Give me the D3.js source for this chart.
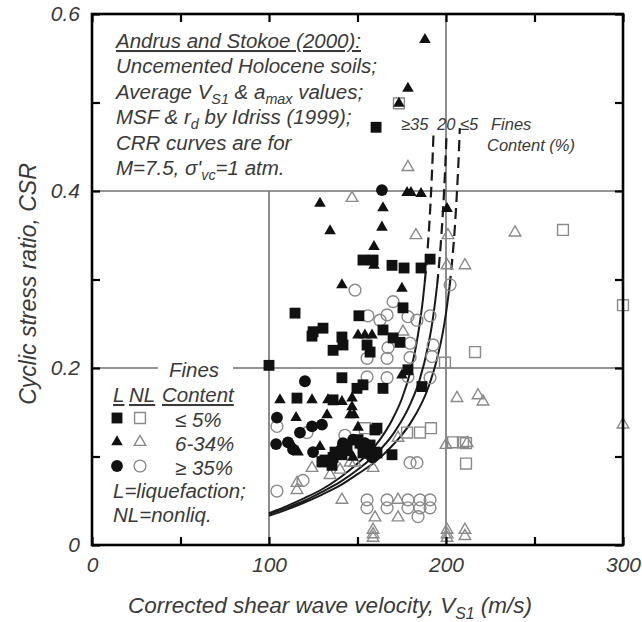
<!DOCTYPE html>
<html>
<head>
<meta charset="utf-8">
<script src="https://cdn.jsdelivr.net/npm/d3@7"></script>
<style>
  body { margin: 0; background: #fff; }
  svg text { font-family: "Liberation Sans", Arial, Helvetica, sans-serif; font-style: italic; fill: #3a3a3a; }
</style>
</head>
<body>
<svg id="chart" width="642" height="622"></svg>
<script>
// ---- data: [Vs1 (m/s), CSR] ----
const liqSquares = [
  [160.5, 0.472], [153.1, 0.322], [158.8, 0.322], [169.5, 0.316], [176.3, 0.313], [185.9, 0.313],
  [191.0, 0.323], [175.7, 0.268], [114.7, 0.262], [150.8, 0.259], [164.4, 0.243], [124.9, 0.241],
  [130.5, 0.245], [124.3, 0.236], [141.2, 0.235], [141.8, 0.226], [136.2, 0.220], [155.4, 0.226],
  [157.1, 0.218], [170.1, 0.234], [174.0, 0.229], [178.5, 0.198], [141.2, 0.189], [153.1, 0.181],
  [149.7, 0.177], [164.4, 0.177], [186.4, 0.179], [100.0, 0.203], [115.8, 0.166], [136.2, 0.164],
  [159.9, 0.130], [161.0, 0.132], [169.5, 0.102], [130.5, 0.094], [131.6, 0.096], [136.2, 0.099],
  [137.3, 0.105], [141.2, 0.102], [144.1, 0.111], [151.4, 0.115], [150.3, 0.119], [157.1, 0.113],
  [155.9, 0.107], [159.9, 0.105], [161.0, 0.104], [153.1, 0.104], [135.6, 0.090], [129.9, 0.094]
];
const nonliqSquares = [
  [173.4, 0.499], [266.1, 0.356], [300.0, 0.271], [216.4, 0.218], [199.4, 0.206], [154.2, 0.132],
  [178.0, 0.127], [185.3, 0.127], [191.5, 0.132], [204.0, 0.116], [209.6, 0.116], [211.3, 0.115],
  [211.3, 0.092]
];
const liqTriangles = [
  [188.1, 0.571], [178.5, 0.516], [173.4, 0.499], [178.0, 0.398], [180.2, 0.398], [185.9, 0.397],
  [128.8, 0.386], [164.4, 0.381], [163.8, 0.359], [134.5, 0.355], [159.3, 0.337], [159.3, 0.316],
  [141.2, 0.294], [175.1, 0.290], [200.6, 0.380], [150.3, 0.237], [154.2, 0.237], [158.2, 0.237],
  [175.1, 0.192], [106.2, 0.164], [124.3, 0.164], [133.3, 0.164], [141.2, 0.162], [146.9, 0.166],
  [146.9, 0.156], [115.3, 0.144], [132.8, 0.147], [145.8, 0.147], [148.0, 0.147], [150.3, 0.133],
  [116.4, 0.105], [113.6, 0.111], [128.8, 0.111], [140.1, 0.111], [145.8, 0.104], [147.5, 0.099],
  [158.2, 0.107]
];
const nonliqTriangles = [
  [178.5, 0.427], [146.9, 0.392], [183.0, 0.350], [201.1, 0.350], [239.0, 0.353], [200.6, 0.316],
  [210.7, 0.316], [175.7, 0.241], [206.2, 0.166], [218.1, 0.169], [220.9, 0.162], [300.0, 0.136],
  [200.0, 0.113], [211.9, 0.115], [172.9, 0.121], [124.3, 0.087], [134.5, 0.079], [140.1, 0.085],
  [145.8, 0.093], [148.6, 0.093], [158.8, 0.087], [115.8, 0.070], [115.8, 0.062], [141.2, 0.051],
  [172.9, 0.051], [159.9, 0.031], [172.9, 0.031], [158.8, 0.017], [158.8, 0.012], [158.8, 0.008],
  [200.6, 0.017], [200.6, 0.012], [200.6, 0.008], [210.7, 0.017], [210.7, 0.010]
];
const liqCircles = [
  [163.8, 0.401], [120.3, 0.185], [104.5, 0.144], [124.3, 0.134], [129.9, 0.136], [117.5, 0.127],
  [104.0, 0.114], [110.7, 0.116], [124.9, 0.105], [141.8, 0.115], [147.5, 0.119], [154.2, 0.115],
  [155.4, 0.104], [158.2, 0.099], [153.1, 0.111], [113.6, 0.108]
];
const nonliqCircles = [
  [148.6, 0.288], [170.1, 0.275], [155.9, 0.259], [166.7, 0.260], [162.7, 0.254], [178.5, 0.258],
  [183.6, 0.254], [191.0, 0.259], [179.7, 0.228], [192.7, 0.226], [167.2, 0.223], [155.4, 0.211],
  [166.7, 0.211], [179.7, 0.212], [192.1, 0.213], [155.4, 0.190], [166.7, 0.189], [178.5, 0.190],
  [191.0, 0.189], [202.3, 0.294], [142.9, 0.124], [179.7, 0.093], [183.6, 0.093], [119.2, 0.073],
  [104.5, 0.061], [104.5, 0.134], [121.5, 0.127], [155.4, 0.051], [166.7, 0.051], [178.5, 0.051],
  [185.3, 0.051], [191.0, 0.051], [155.4, 0.042], [166.7, 0.042], [178.5, 0.042], [185.3, 0.042],
  [191.0, 0.042], [184.2, 0.032]
];

// CRR curves (solid part, dashed extension) for fines content >=35, 20, <=5 %
const crrFines35 = [[100, 0.036], [110, 0.044], [120, 0.053], [130, 0.063], [140, 0.076], [150, 0.092],
  [160, 0.112], [170, 0.143], [175, 0.165], [180, 0.197], [183, 0.224], [185, 0.248], [187, 0.278], [188, 0.297]];
const crrFines35Dash = [[188, 0.297], [189, 0.319], [190, 0.345], [191, 0.377], [192, 0.417], [192.5, 0.441], [193, 0.468]];
const crrFines20 = [[100, 0.035], [110, 0.042], [120, 0.050], [130, 0.060], [140, 0.071], [150, 0.085],
  [160, 0.102], [170, 0.125], [180, 0.160], [185, 0.186], [190, 0.226], [192, 0.248], [194, 0.277], [195, 0.294]];
const crrFines20Dash = [[195, 0.294], [196, 0.315], [197, 0.339], [198, 0.368], [199, 0.403], [199.5, 0.424], [200, 0.448], [200.3, 0.464]];
const crrFines5 = [[100, 0.033], [110, 0.040], [120, 0.048], [130, 0.057], [140, 0.067], [150, 0.080],
  [160, 0.094], [170, 0.113], [180, 0.138], [190, 0.178], [195, 0.211], [198, 0.238], [200, 0.262], [202, 0.292]];
const crrFines5Dash = [[202, 0.292], [203, 0.311], [204, 0.333], [205, 0.359], [206, 0.392], [207, 0.431], [207.5, 0.455], [207.8, 0.471]];

const xTicks = [0, 50, 100, 150, 200, 250, 300];
const xLabels = [0, 100, 200, 300];
const yTicks = [0, 0.1, 0.2, 0.3, 0.4, 0.5, 0.6];
const yLabels = [0, 0.2, 0.4, 0.6];
const xGrid = [100, 200];
const yGrid = [0.2, 0.4];

const noteLines = [
  [["Andrus and Stokoe (2000):"]],
  [["Uncemented Holocene soils;"]],
  [["Average V"], ["S1", "sub"], [" & a"], ["max", "sub"], [" values;"]],
  [["MSF & r"], ["d", "sub"], [" by Idriss (1999);"]],
  [["CRR curves are for"]],
  [["M=7.5, \u03c3'"], ["vc", "sub"], ["=1 atm."]]
];
const legendRows = [
  { shape: "square", label: "\u2264 5%" },
  { shape: "triangle", label: "6-34%" },
  { shape: "circle", label: "\u2265 35%" }
];

// ---- layout ----
const svg = d3.select("#chart");
const plot = { left: 92, right: 623, top: 14, bottom: 545 };
const x = d3.scaleLinear().domain([0, 300]).range([plot.left, plot.right]);
const y = d3.scaleLinear().domain([0, 0.6]).range([plot.bottom, plot.top]);

const solidColor = "#111";
const openColor = "#8a8a8a";
const gridColor = "#707070";

// gridlines
svg.append("g").selectAll("line").data(yGrid).join("line")
  .attr("x1", plot.left).attr("x2", plot.right)
  .attr("y1", d => y(d)).attr("y2", d => y(d))
  .attr("stroke", gridColor).attr("stroke-width", 1.6);
svg.append("g").selectAll("line").data(xGrid).join("line")
  .attr("x1", d => x(d)).attr("x2", d => x(d))
  .attr("y1", plot.bottom).attr("y2", d => d === 100 ? y(0.4) : plot.top)
  .attr("stroke", gridColor).attr("stroke-width", 1.6);

// white patch behind the legend heading
svg.append("rect").attr("x", 158).attr("y", 358).attr("width", 75).attr("height", 20).attr("fill", "#fff");

// CRR curves
const line = d3.line().x(d => x(d[0])).y(d => y(d[1])).curve(d3.curveMonotoneX);
[crrFines35, crrFines20, crrFines5].forEach(c => {
  svg.append("path").datum(c).attr("d", line)
    .attr("fill", "none").attr("stroke", "#1a1a1a").attr("stroke-width", 2);
});
[crrFines35Dash, crrFines20Dash, crrFines5Dash].forEach(c => {
  svg.append("path").datum(c).attr("d", line)
    .attr("fill", "none").attr("stroke", "#1a1a1a").attr("stroke-width", 2.2)
    .attr("stroke-dasharray", "11,6");
});

// markers
const shapes = {
  square: d3.symbol(d3.symbolSquare, 118),
  triangle: d3.symbol(d3.symbolTriangle, 58),
  circle: d3.symbol(d3.symbolCircle, 110)
};
function drawMarkers(data, shape, filled) {
  svg.append("g").selectAll("path").data(data).join("path")
    .attr("transform", d => `translate(${x(d[0])},${y(d[1])})`)
    .attr("d", shapes[shape]())
    .attr("fill", filled ? solidColor : "none")
    .attr("stroke", filled ? "none" : openColor)
    .attr("stroke-width", 1.4);
}
drawMarkers(nonliqCircles, "circle", false);
drawMarkers(nonliqTriangles, "triangle", false);
drawMarkers(nonliqSquares, "square", false);
drawMarkers(liqCircles, "circle", true);
drawMarkers(liqSquares, "square", true);
drawMarkers(liqTriangles, "triangle", true);

// axes: inward ticks on all four sides
function styleAxis(g) {
  g.select(".domain").remove();
  g.selectAll(".tick line").attr("stroke", "#000").attr("stroke-width", 2.2);
  g.selectAll(".tick text").attr("font-size", 21).attr("fill", "#333")
    .style("font-family", "\"Liberation Sans\", Arial, sans-serif").style("font-style", "italic");
}
const fmtX = d => xLabels.includes(d) ? d : "";
const fmtY = d => yLabels.some(v => Math.abs(v - d) < 1e-9) ? (d === 0 ? "0" : d3.format(".1f")(d)) : "";
svg.append("g").attr("transform", `translate(0,${plot.bottom})`)
  .call(d3.axisBottom(x).tickValues(xTicks).tickSize(-8).tickPadding(12).tickFormat(fmtX)).call(styleAxis);
svg.append("g").attr("transform", `translate(0,${plot.top})`)
  .call(d3.axisTop(x).tickValues(xTicks).tickSize(-8).tickFormat("")).call(styleAxis);
svg.append("g").attr("transform", `translate(${plot.left},0)`)
  .call(d3.axisLeft(y).tickValues(yTicks).tickSize(-8).tickPadding(12).tickFormat(fmtY)).call(styleAxis);
svg.append("g").attr("transform", `translate(${plot.right},0)`)
  .call(d3.axisRight(y).tickValues(yTicks).tickSize(-8).tickFormat("")).call(styleAxis);

// frame
svg.append("rect")
  .attr("x", plot.left).attr("y", plot.top)
  .attr("width", plot.right - plot.left).attr("height", plot.bottom - plot.top)
  .attr("fill", "none").attr("stroke", "#000").attr("stroke-width", 2.6);

// rich text helper (segments with optional subscript)
function richText(sel, segs, fontSize) {
  let shifted = false;
  segs.forEach(s => {
    const t = sel.append("tspan").text(s[0]);
    if (s[1] === "sub") {
      t.attr("font-size", fontSize * 0.7).attr("dy", shifted ? 0 : fontSize * 0.25);
      shifted = true;
    } else if (shifted) {
      t.attr("dy", -fontSize * 0.25);
      shifted = false;
    }
  });
}

// annotation block
const note = svg.append("g");
noteLines.forEach((segs, i) => {
  const t = note.append("text").attr("x", 116).attr("y", 48 + i * 25.4).attr("font-size", 20.5);
  richText(t, segs, 20.5);
  if (i === 0) t.style("text-decoration", "underline");
});

// curve labels
const curveLabels = [["\u226535", 401], ["20", 437], ["\u22645", 460], ["Fines", 491]];
curveLabels.forEach(([txt, px]) => {
  svg.append("text").attr("x", px).attr("y", 130).attr("font-size", 16.5).text(txt);
});
svg.append("text").attr("x", 487).attr("y", 151).attr("font-size", 16.5).text("Content (%)");

// legend
const lg = svg.append("g");
lg.append("text").attr("x", 194).attr("y", 377).attr("text-anchor", "middle").attr("font-size", 20.5).text("Fines");
[["L", 113], ["NL", 129], ["Content", 162]].forEach(([txt, px]) => {
  lg.append("text").attr("x", px).attr("y", 402).attr("font-size", 20.5)
    .style("text-decoration", "underline").text(txt);
});
legendRows.forEach((r, i) => {
  const cy = 418 + i * 24;
  lg.append("path").attr("transform", `translate(117,${cy})`).attr("d", shapes[r.shape]())
    .attr("fill", solidColor);
  lg.append("path").attr("transform", `translate(140,${cy})`).attr("d", shapes[r.shape]())
    .attr("fill", "none").attr("stroke", openColor).attr("stroke-width", 1.4);
  lg.append("text").attr("x", 175).attr("y", cy + 9).attr("font-size", 20.5).text(r.label);
});
lg.append("text").attr("x", 113).attr("y", 498).attr("font-size", 20.5).text("L=liquefaction;");
lg.append("text").attr("x", 113).attr("y", 522).attr("font-size", 20.5).text("NL=nonliq.");

// axis titles
const xt = svg.append("text").attr("x", 330).attr("y", 613).attr("text-anchor", "middle").attr("font-size", 22.5);
richText(xt, [["Corrected shear wave velocity, V"], ["S1", "sub"], [" (m/s)"]], 22.5);
svg.append("text").attr("transform", "translate(36,284) rotate(-90)")
  .attr("text-anchor", "middle").attr("font-size", 23).text("Cyclic stress ratio, CSR");
</script>
</body>
</html>
